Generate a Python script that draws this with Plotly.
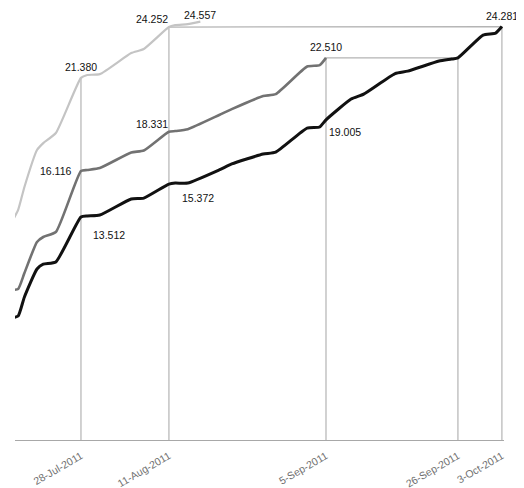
import plotly.graph_objects as go

# ---- data ----
light_dates = ["2011-07-17", "2011-07-18", "2011-07-19", "2011-07-21", "2011-07-22", "2011-07-24",
               "2011-07-28", "2011-07-29", "2011-07-31", "2011-08-05", "2011-08-07", "2011-08-11",
               "2011-08-12", "2011-08-14", "2011-08-16"]
light_vals = [13.23, 13.91, 15.21, 17.30, 17.69, 18.26,
              21.380, 21.54, 21.59, 22.78, 23.01, 24.252,
              24.36, 24.42, 24.557]

mid_dates = ["2011-07-17", "2011-07-18", "2011-07-19", "2011-07-21", "2011-07-22", "2011-07-24",
             "2011-07-28", "2011-07-29", "2011-07-31", "2011-08-05", "2011-08-07", "2011-08-11",
             "2011-08-12", "2011-08-14", "2011-08-19", "2011-08-21", "2011-08-26", "2011-08-28",
             "2011-09-02", "2011-09-04", "2011-09-05"]
mid_vals = [9.38, 9.44, 10.34, 12.10, 12.38, 12.66,
            16.116, 16.17, 16.28, 17.16, 17.27, 18.331,
            18.37, 18.48, 19.28, 19.61, 20.35, 20.46,
            22.02, 22.10, 22.510]

black_dates = ["2011-07-17", "2011-07-18", "2011-07-19", "2011-07-21", "2011-07-22", "2011-07-24",
               "2011-07-28", "2011-07-29", "2011-07-31", "2011-08-05", "2011-08-07", "2011-08-11",
               "2011-08-12", "2011-08-14", "2011-08-19", "2011-08-21", "2011-08-26", "2011-08-28",
               "2011-09-02", "2011-09-04", "2011-09-05", "2011-09-09", "2011-09-11", "2011-09-16",
               "2011-09-18", "2011-09-23", "2011-09-25", "2011-09-26", "2011-09-30", "2011-10-02",
               "2011-10-03"]
black_vals = [7.80, 7.91, 8.99, 10.57, 10.85, 10.97,
              13.512, 13.57, 13.62, 14.53, 14.58, 15.372,
              15.43, 15.43, 16.17, 16.51, 17.07, 17.18,
              18.54, 18.60, 19.005, 20.18, 20.46, 21.62,
              21.76, 22.33, 22.44, 22.510, 23.80, 23.91,
              24.281]

tick_dates = ["2011-07-28", "2011-08-11", "2011-09-05", "2011-09-26", "2011-10-03"]
tick_labels = ["28-Jul-2011", "11-Aug-2011", "5-Sep-2011", "26-Sep-2011", "3-Oct-2011"]

# labelled points: date, value, position
label_dates = ["2011-07-28", "2011-08-11", "2011-08-16", "2011-07-28", "2011-08-11",
               "2011-07-28", "2011-08-11", "2011-09-05", "2011-09-05", "2011-10-03"]
label_vals = [21.380, 24.252, 24.557, 16.116, 18.331,
              13.512, 15.372, 22.510, 19.005, 24.281]
label_pos = ["tc", "tl", "tc_low", "ml", "tl",
             "br_low", "br", "tc", "br_near", "tc"]

Y_MIN, Y_MAX = 0.9, 25.33

GRID = "#b4b4b4"
LABEL_FONT = "Liberation Sans, Arial, sans-serif"
fig = go.Figure()

# drop / connector lines
fig.add_trace(go.Scatter(x=[tick_dates[0], tick_dates[0]], y=[Y_MIN, label_vals[0]],
                         mode="lines", line=dict(color=GRID, width=1.2), hoverinfo="skip"))
fig.add_trace(go.Scatter(x=[tick_dates[1], tick_dates[1], tick_dates[4], tick_dates[4]],
                         y=[Y_MIN, label_vals[1], label_vals[9], Y_MIN],
                         mode="lines", line=dict(color=GRID, width=1.2), hoverinfo="skip"))
fig.add_trace(go.Scatter(x=[tick_dates[2], tick_dates[2], tick_dates[3], tick_dates[3]],
                         y=[Y_MIN, label_vals[7], label_vals[7], Y_MIN],
                         mode="lines", line=dict(color=GRID, width=1.2), hoverinfo="skip"))

fig.add_trace(go.Scatter(x=light_dates, y=light_vals, mode="lines",
                         line=dict(color="#c4c4c4", width=2.2, shape="spline", smoothing=0.5)))
fig.add_trace(go.Scatter(x=mid_dates, y=mid_vals, mode="lines",
                         line=dict(color="#727272", width=2.6, shape="spline", smoothing=0.5)))
fig.add_trace(go.Scatter(x=black_dates, y=black_vals, mode="lines",
                         line=dict(color="#111111", width=3, shape="spline", smoothing=0.5)))

pos_map = {
    "tc": dict(xanchor="center", yanchor="bottom", xshift=0, yshift=3),
    "tc_low": dict(xanchor="center", yanchor="bottom", xshift=0, yshift=-1),
    "tl": dict(xanchor="right", yanchor="bottom", xshift=1, yshift=0),
    "ml": dict(xanchor="right", yanchor="middle", xshift=-8, yshift=0),
    "br": dict(xanchor="left", yanchor="top", xshift=11, yshift=-6),
    "br_low": dict(xanchor="left", yanchor="top", xshift=10, yshift=-10),
    "br_near": dict(xanchor="left", yanchor="top", xshift=1, yshift=-4),
}
for d, v, p in zip(label_dates, label_vals, label_pos):
    fig.add_annotation(x=d, y=v, text=f"{v:.3f}", showarrow=False,
                       font=dict(family=LABEL_FONT, size=10.5, color="#111111"),
                       **pos_map[p])

fig.update_layout(
    width=524, height=488,
    margin=dict(l=7, r=28, t=0, b=56, autoexpand=False),
    paper_bgcolor="white", plot_bgcolor="white",
    showlegend=False,
    xaxis=dict(type="date", range=["2011-07-17 12:00", "2011-10-03 08:00"],
               tickvals=tick_dates, ticktext=tick_labels, tickangle=-30,
               automargin=False, ticklabelstandoff=5,
               showgrid=False, zeroline=False, showline=True, linecolor="#a8a8a8", linewidth=1,
               ticks="", tickfont=dict(family=LABEL_FONT, size=10.5, color="#707070")),
    yaxis=dict(range=[Y_MIN, Y_MAX], visible=False, showgrid=False, zeroline=False,
               automargin=False),
)

fig.write_html("out.html")
